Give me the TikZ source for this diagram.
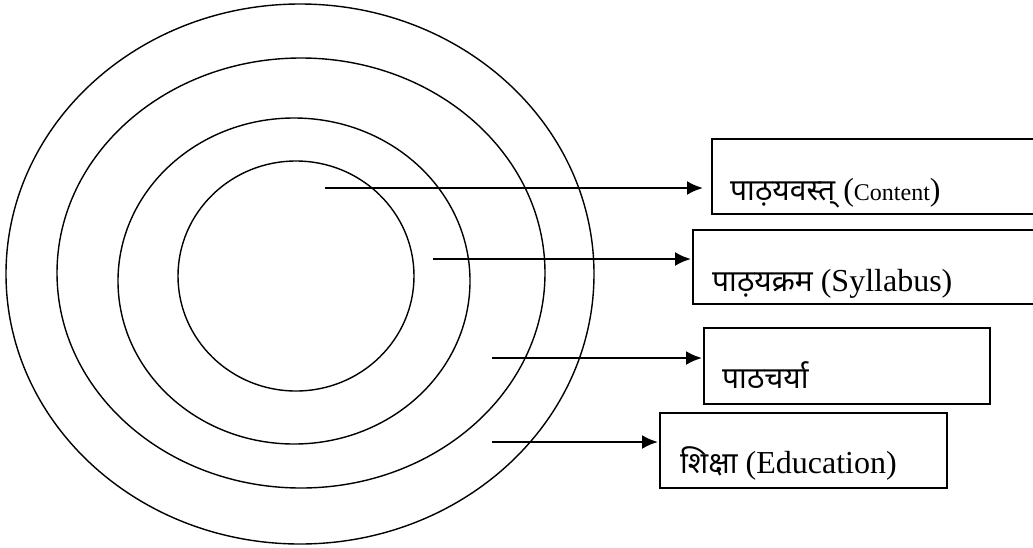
\documentclass[tikz,border=0pt]{standalone}
\usepackage{fontspec}
\setmainfont{Liberation Serif}
\newfontfamily\dev[Script=Devanagari]{Noto Sans}
\usetikzlibrary{arrows.meta}

\tikzset{
  ring/.style={line width=1.4pt},
  labelbox/.style={draw, line width=1.6pt, anchor=north west, inner sep=0pt},
  conn/.style={line width=2.3pt, -{Latex[length=16pt,width=14pt]}},
  lbl/.style={anchor=base west, inner sep=0pt, font=\fontsize{32}{38}\selectfont},
}
\newcommand{\devtxt}[1]{{\dev\fontsize{30}{36}\selectfont #1}}

\begin{document}
\begin{tikzpicture}[x=1pt,y=-1pt]
  \useasboundingbox (0,0) rectangle (1033,547);

  % concentric rings
  \draw[ring] (300,274) ellipse [x radius=294, y radius=270];
  \draw[ring] (301,273) ellipse [x radius=244, y radius=215];
  \draw[ring] (294,281) ellipse [x radius=176, y radius=163];
  \draw[ring] (296,276) ellipse [x radius=118, y radius=115];

  % label boxes
  \node[labelbox, minimum width=340pt, minimum height=75pt] (b1) at (711,138) {};
  \node[labelbox, minimum width=360pt, minimum height=74pt] (b2) at (692,229) {};
  \node[labelbox, minimum width=286pt, minimum height=76pt] (b3) at (703,327) {};
  \node[labelbox, minimum width=287pt, minimum height=75pt] (b4) at (659,412) {};

  % label texts
  \node[lbl] (t1) at (730,200) {\devtxt{पाठ़यवस्त्} ({\fontsize{24}{28}\selectfont Content})};
  \node[lbl] (t2) at (712,291) {\devtxt{पाठ़यक्रम} (Syllabus)};
  \node[lbl] (t3) at (722,388) {\devtxt{पाठचर्या}};
  \node[lbl] (t4) at (680,473) {\devtxt{शिक्षा} (Education)};

  % arrow start points
  \coordinate (s1) at (325,188);
  \coordinate (s2) at (433,259);
  \coordinate (s3) at (492,358);
  \coordinate (s4) at (492,442);

  % connectors
  \draw[conn, shorten >=8pt] (s1) -- (s1 -| b1.west);
  \draw[conn, shorten >=1pt] (s2) -- (s2 -| b2.west);
  \draw[conn, shorten >=1pt] (s3) -- (s3 -| b3.west);
  \draw[conn, shorten >=1pt] (s4) -- (s4 -| b4.west);
\end{tikzpicture}
\end{document}
